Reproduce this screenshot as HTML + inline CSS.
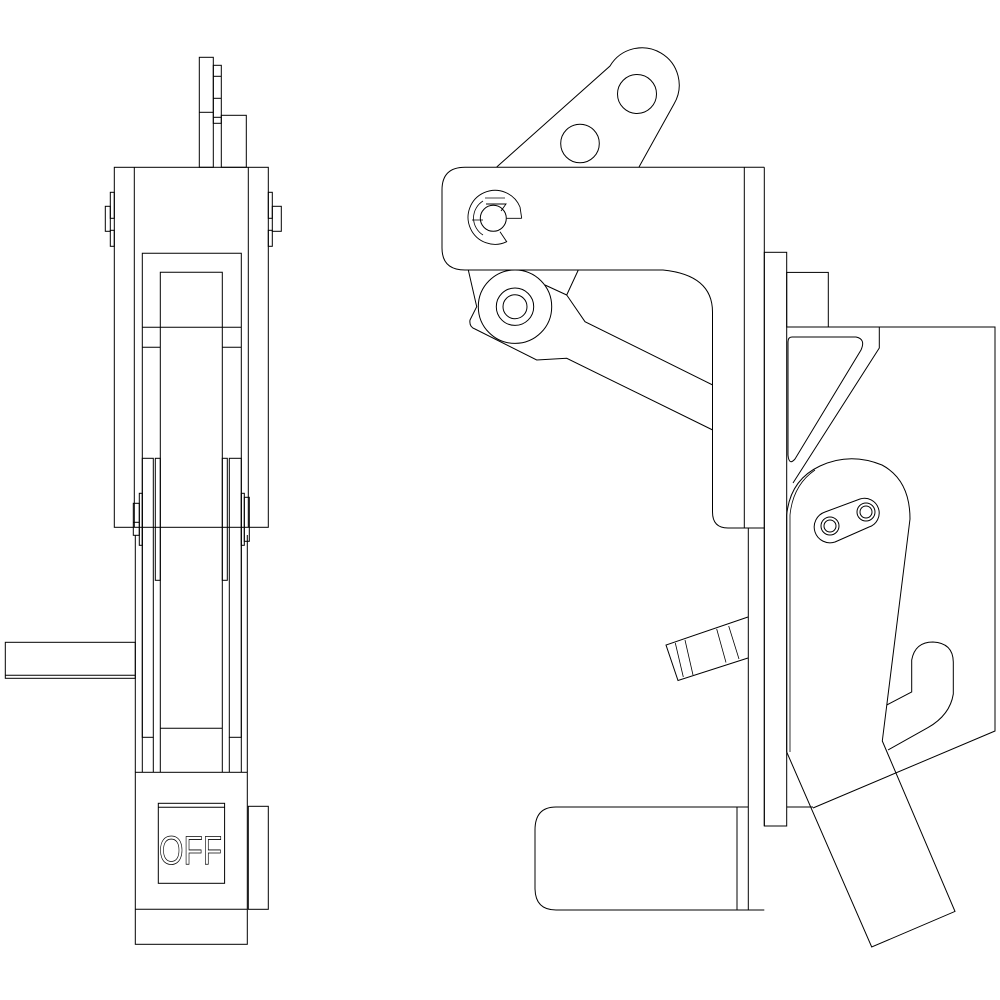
<!DOCTYPE html>
<html><head><style>html,body{margin:0;padding:0;background:#fff}svg{display:block}</style></head>
<body>
<svg width="1000" height="1000" viewBox="0 0 1000 1000" xmlns="http://www.w3.org/2000/svg" fill="none" stroke="#000" stroke-width="1">
<!-- LEFT VIEW -->
<rect x="199.3" y="57.3" width="14" height="110"/>
<line x1="199.3" y1="112.3" x2="213.3" y2="112.3"/>
<rect x="213.3" y="65.3" width="8" height="58"/>
<line x1="213.3" y1="76.3" x2="221.3" y2="76.3"/>
<line x1="213.3" y1="98.3" x2="221.3" y2="98.3"/>
<line x1="213.3" y1="117.3" x2="221.3" y2="117.3"/>
<rect x="221.3" y="115.3" width="25" height="52"/>
<rect x="114.3" y="167.3" width="154" height="360"/>
<line x1="134.3" y1="167.3" x2="134.3" y2="527.3"/>
<line x1="248.3" y1="167.3" x2="248.3" y2="527.3"/>
<rect x="110.3" y="192.3" width="4" height="26"/>
<rect x="105.3" y="206.3" width="5" height="25"/>
<rect x="110.3" y="230.3" width="4" height="16"/>
<rect x="268.3" y="192.3" width="4" height="26"/>
<rect x="272.3" y="206.3" width="9" height="25"/>
<rect x="268.3" y="230.3" width="4" height="16"/>
<polyline points="142.3,772 142.3,253.3 241.3,253.3 241.3,772"/>
<polyline points="160.3,772 160.3,272.3 222.3,272.3 222.3,772"/>
<line x1="142.3" y1="327.3" x2="241.3" y2="327.3"/>
<line x1="142.3" y1="347.3" x2="160.3" y2="347.3"/>
<line x1="222.3" y1="347.3" x2="241.3" y2="347.3"/>
<rect x="142.3" y="458.3" width="11" height="279"/>
<rect x="155.3" y="458.3" width="5" height="122"/>
<rect x="229.3" y="458.3" width="12" height="279"/>
<rect x="222.3" y="458.3" width="5" height="122"/>
<line x1="153.3" y1="737.3" x2="153.3" y2="772"/>
<line x1="229.3" y1="737.3" x2="229.3" y2="772"/>
<line x1="160.3" y1="728.3" x2="222.3" y2="728.3"/>
<line x1="135.3" y1="535" x2="135.3" y2="772"/>
<line x1="247.3" y1="535" x2="247.3" y2="772"/>
<rect x="133.3" y="503.3" width="6" height="32"/>
<line x1="133.3" y1="522.3" x2="139.3" y2="522.3"/>
<rect x="139.3" y="493.3" width="3" height="52"/>
<rect x="241.3" y="493.3" width="3" height="52"/>
<rect x="244.3" y="497.3" width="5" height="44"/>
<rect x="135.3" y="772.3" width="112" height="172"/>
<line x1="135.3" y1="909.3" x2="247.3" y2="909.3"/>
<rect x="158.3" y="803.3" width="66.3" height="80"/>
<line x1="158.3" y1="807.3" x2="224.6" y2="807.3"/>
<text x="159" y="864" font-family="Liberation Sans, sans-serif" font-size="40" stroke-width="0.8" textLength="63" lengthAdjust="spacingAndGlyphs">OFF</text>
<rect x="248.3" y="806.3" width="20" height="103"/>
<rect x="5.3" y="642.3" width="130" height="36"/>
<line x1="5.3" y1="675.3" x2="135.3" y2="675.3"/>

<!-- RIGHT VIEW -->
<path d="M496.7,167 L610,66 A37,37 0 0 1 674,104 L639,167"/>
<circle cx="637" cy="94" r="19.5"/>
<circle cx="580" cy="143.5" r="19.3"/>
<path d="M764.3,167.3 L465,167.3 Q442,167.3 442,190 L442,248 Q442,270 465,270 L663,270 Q712.5,275 712.5,312 L712.5,512 Q712.5,528 728,528 L764.3,528"/>
<line x1="744.3" y1="167.3" x2="744.3" y2="528"/>
<line x1="764.3" y1="167.3" x2="764.3" y2="826"/>
<line x1="748.3" y1="528" x2="748.3" y2="910"/>
<!-- snap ring -->
<path d="M521.7,218.3 L506.7,218.3 M520,207 A27,27 0 1 0 506.7,241.7 L500,231.7 M486,204 L506,204 L501,211" stroke-width="0.9"/>
<path d="M520,207 L521.7,218.3" stroke-width="0.9"/>
<path d="M485,198 L505,198" stroke-width="0.8"/>
<path d="M483,201 A20,20 0 0 0 483,235" stroke-width="0.8"/>
<path d="M472,220 L483,220" stroke-width="0.8"/>
<circle cx="493.3" cy="218.3" r="13"/>
<!-- link arm -->
<path d="M468.3,270 L476.7,306.7 L470,320 Q469,327 475,329 L536.7,360 L566.7,358.3 L712.7,430"/>
<path d="M578.3,270 L566.7,295 L585,321.7 L712.7,385"/>
<line x1="545" y1="285" x2="566.7" y2="295"/>
<circle cx="515" cy="306.7" r="36.7" fill="#fff"/>
<circle cx="515" cy="306.7" r="18.7"/>
<circle cx="515" cy="306.7" r="12"/>
<rect x="764.3" y="252.3" width="22.4" height="573.7"/>
<rect x="786.7" y="272.4" width="41.6" height="54.6"/>
<path d="M786.7,327 L995,327 L995,731 L813,808 M879.3,327 L879.3,348 L793,483"/>
<line x1="786.7" y1="807" x2="813" y2="807"/>
<path d="M792,337 L856,337 Q866,339 861,350 L795,459 Q789,466 788,455 L788,342 Q788,337 792,337 Z"/>
<path d="M786.7,752 L786.7,515 Q790,480 820,466 Q850,452 882,465 Q910,480 910,519 L882.3,741 L955,911.4 L871.7,947 L786.7,752"/>
<path d="M790,752 L790,515 Q793,485 815,470" stroke-width="0.8"/>
<path d="M835,542 L869,527 A14,14 0 0 0 860,499 L825,512 A15,15 0 0 0 835,542 Z"/>
<circle cx="830" cy="526" r="9"/><circle cx="830" cy="526" r="6"/>
<circle cx="866" cy="512" r="9"/><circle cx="866" cy="512" r="6"/>
<path d="M886.7,705 L911.7,692 L911.7,660 Q915,642 933,642 Q953,643 953.3,662 L953.3,694 Q950,715 928,727.6 L888,750"/>
<path d="M748,617 L666,645 L678,680.5 L748,658"/>
<path d="M675.3,643 L683.3,677 M685,640 L693,675 M716.7,629 L726,662.5 M728.7,626 L739,659" stroke-width="0.8"/>
<path d="M748.3,807 L556,807 Q535,807 535,830 L535,888 Q535,910 556,910 L764.3,910"/>
<line x1="737" y1="807" x2="737" y2="910"/>
</svg>
</body></html>
